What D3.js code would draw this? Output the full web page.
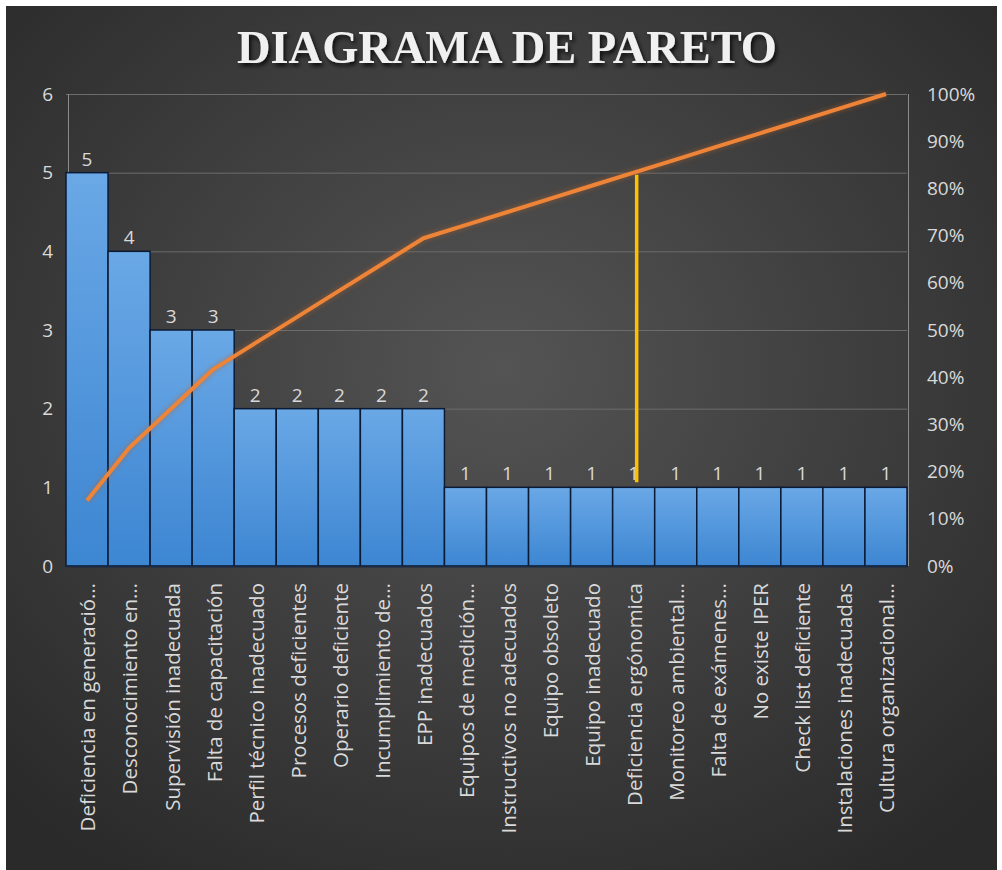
<!DOCTYPE html>
<html>
<head>
<meta charset="utf-8">
<script src="https://cdn.jsdelivr.net/npm/d3@7/dist/d3.min.js"></script>
<style>
  body { margin: 0; background: #fff; }
  svg { display: block; }
  .tick-label { font-family: "Open Sans", "Noto Sans", sans-serif; fill: #d9d9d9; }
</style>
</head>
<body>
<svg id="chart" width="1002" height="870"></svg>
<script>
// categories as shown on the x axis (Excel truncates long ones)
const categories = [
  'Deficiencia en generació…', 'Desconocimiento en…', 'Supervisión inadecuada',
  'Falta de capacitación', 'Perfil técnico inadecuado', 'Procesos deficientes',
  'Operario deficiente', 'Incumplimiento de…', 'EPP inadecuados',
  'Equipos de medición…', 'Instructivos no adecuados', 'Equipo obsoleto',
  'Equipo inadecuado', 'Deficiencia ergónomica', 'Monitoreo ambiental…',
  'Falta de exámenes…', 'No existe IPER', 'Check list deficiente',
  'Instalaciones inadecuadas', 'Cultura organizacional…'
];
const counts = [5, 4, 3, 3, 2, 2, 2, 2, 2, 1, 1, 1, 1, 1, 1, 1, 1, 1, 1, 1];
const countTicks = [0, 1, 2, 3, 4, 5, 6];
const pctTicks = [0, 0.1, 0.2, 0.3, 0.4, 0.5, 0.6, 0.7, 0.8, 0.9, 1];
// category where the 80% cut is marked
const cutCategory = 'Deficiencia ergónomica';

const total = d3.sum(counts);
let running = 0;
const cumulative = counts.map((c) => { running += c; return running / total; });

const svg = d3.select('#chart');
const defs = svg.append('defs');

const bg = defs.append('radialGradient').attr('id', 'bg')
  .attr('cx', '50%').attr('cy', '42%').attr('r', '70%');
bg.append('stop').attr('offset', '0%').attr('stop-color', '#545454');
bg.append('stop').attr('offset', '100%').attr('stop-color', '#2a2a2a');

const barGrad = defs.append('linearGradient').attr('id', 'barGrad')
  .attr('x1', 0).attr('y1', 0).attr('x2', 0).attr('y2', 1);
barGrad.append('stop').attr('offset', '0%').attr('stop-color', '#6aa8e6');
barGrad.append('stop').attr('offset', '100%').attr('stop-color', '#3d86d2');

const shadow = defs.append('filter').attr('id', 'shadow')
  .attr('x', '-10%').attr('y', '-30%').attr('width', '120%').attr('height', '160%');
shadow.append('feDropShadow').attr('dx', 2).attr('dy', 3)
  .attr('stdDeviation', 2).attr('flood-color', '#000').attr('flood-opacity', 0.8);

const glow = defs.append('filter').attr('id', 'glow')
  .attr('x', '-5%').attr('y', '-5%').attr('width', '110%').attr('height', '110%');
glow.append('feGaussianBlur').attr('stdDeviation', 2);

// background card
svg.append('rect').attr('x', 6).attr('y', 6).attr('width', 991).attr('height', 864)
  .attr('fill', 'url(#bg)');

const x = d3.scaleBand().domain(categories).range([66, 907]).padding(0);
const y = d3.scaleLinear().domain([0, 6]).range([566, 94]);
const y2 = d3.scaleLinear().domain([0, 1]).range([566, 94]);

// title
svg.append('text')
  .attr('x', 507).attr('y', 63)
  .attr('text-anchor', 'middle')
  .attr('font-family', '"Liberation Serif", "DejaVu Serif", serif')
  .attr('font-weight', 'bold')
  .attr('font-size', 47)
  .attr('textLength', 540)
  .attr('lengthAdjust', 'spacingAndGlyphs')
  .attr('fill', '#f0f0f0')
  .attr('filter', 'url(#shadow)')
  .text('DIAGRAMA DE PARETO');

// gridlines
svg.append('g').selectAll('line')
  .data(countTicks.slice(1))
  .join('line')
  .attr('x1', 66).attr('x2', 907)
  .attr('y1', (d) => y(d) + 0.5).attr('y2', (d) => y(d) + 0.5)
  .attr('stroke', '#6c6c6c').attr('stroke-width', 1);

// axis lines
svg.append('line').attr('x1', 68.5).attr('x2', 68.5).attr('y1', 94).attr('y2', 566)
  .attr('stroke', '#8c8c8c');
svg.append('line').attr('x1', 908.5).attr('x2', 908.5).attr('y1', 94).attr('y2', 566)
  .attr('stroke', '#8c8c8c');

// bars
svg.append('g').selectAll('rect')
  .data(counts)
  .join('rect')
  .attr('x', (d, i) => x(categories[i]))
  .attr('y', (d) => y(d))
  .attr('width', x.bandwidth())
  .attr('height', (d) => y(0) - y(d))
  .attr('fill', 'url(#barGrad)')
  .attr('stroke', '#0b1b36')
  .attr('stroke-width', 1.5);

// bottom axis line
const xAxis = d3.axisBottom(x).tickSize(0).tickFormat('');
svg.append('g').attr('transform', 'translate(0,566)').call(xAxis)
  .call((g) => g.select('.domain').attr('stroke', '#1a2a44').attr('stroke-width', 2));

// value labels
svg.append('g').selectAll('text')
  .data(counts)
  .join('text')
  .attr('class', 'tick-label')
  .attr('x', (d, i) => x(categories[i]) + x.bandwidth() / 2)
  .attr('y', (d) => y(d) - 7)
  .attr('text-anchor', 'middle')
  .attr('font-size', 19)
  .text((d) => d);

// left axis
svg.append('g').selectAll('text')
  .data(countTicks)
  .join('text')
  .attr('class', 'tick-label')
  .attr('x', 53).attr('y', (d) => y(d))
  .attr('dy', '0.35em')
  .attr('text-anchor', 'end')
  .attr('font-size', 19)
  .text((d) => d);

// right axis
svg.append('g').selectAll('text')
  .data(pctTicks)
  .join('text')
  .attr('class', 'tick-label')
  .attr('x', 927).attr('y', (d) => y2(d))
  .attr('dy', '0.35em')
  .attr('font-size', 19)
  .text(d3.format('.0%'));

// category labels
svg.append('g').selectAll('text')
  .data(categories)
  .join('text')
  .attr('class', 'tick-label')
  .attr('transform', (d) => `translate(${x(d) + x.bandwidth() / 2 + 1},583) rotate(-90)`)
  .attr('dy', '0.36em')
  .attr('text-anchor', 'end')
  .attr('font-size', 20.5)
  .text((d) => d);

// cumulative line
const line = d3.line()
  .x((d, i) => x(categories[i]) + x.bandwidth() / 2)
  .y((d) => y2(d));
svg.append('path').datum(cumulative)
  .attr('d', line).attr('fill', 'none')
  .attr('stroke', '#b8622a').attr('stroke-width', 7).attr('opacity', 0.35)
  .attr('filter', 'url(#glow)');
svg.append('path').datum(cumulative)
  .attr('d', line).attr('fill', 'none')
  .attr('stroke', '#ee8437').attr('stroke-width', 4)
  .attr('stroke-linejoin', 'round');

// 80% cut marker
const cutIdx = categories.indexOf(cutCategory);
const cutX = x(cutCategory) + x.bandwidth() / 2 + 3;
svg.append('line')
  .attr('x1', cutX).attr('x2', cutX)
  .attr('y1', y2(cumulative[cutIdx]) + 2)
  .attr('y2', y(counts[cutIdx]) - 5)
  .attr('stroke', '#ffc000').attr('stroke-width', 3.5);
</script>
</body>
</html>
